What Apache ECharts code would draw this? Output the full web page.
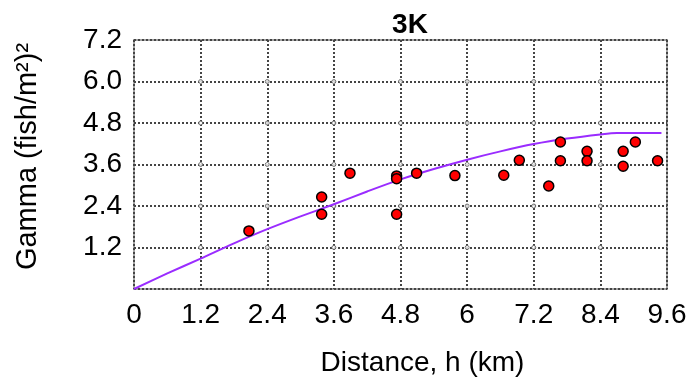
<!DOCTYPE html>
<html>
<head>
<meta charset="utf-8">
<style>
  html, body { margin: 0; padding: 0; background: #fff; }
  #chart { width: 695px; height: 387px; }
</style>
<script src="https://cdn.jsdelivr.net/npm/echarts@6/dist/echarts.min.js"></script>
</head>
<body>
<div id="chart"></div>
<script>
// Semivariogram for stratum 3K: empirical values and fitted model
var title = '3K';
var xName = 'Distance, h (km)';
var yName = 'Gamma (fish/m\u00B2)\u00B2';

// Axis ticks
var xTicks = [0, 1.2, 2.4, 3.6, 4.8, 6, 7.2, 8.4, 9.6];
var xTickLabels = ['0', '1.2', '2.4', '3.6', '4.8', '6', '7.2', '8.4', '9.6'];
var yTicks = [0, 1.2, 2.4, 3.6, 4.8, 6.0, 7.2];
var yTickLabels = ['', '1.2', '2.4', '3.6', '4.8', '6.0', '7.2'];

// Empirical semivariance (distance, gamma)
var empDistance = [2.07, 3.38, 3.38, 3.89, 4.73, 4.73, 4.73, 5.09, 5.78, 6.66, 6.94, 7.47, 7.68, 7.68, 8.16, 8.16, 8.81, 8.81, 9.03, 9.43];
var empGamma    = [1.68, 2.66, 2.16, 3.35, 3.27, 3.19, 2.16, 3.35, 3.28, 3.29, 3.72, 2.98, 4.25, 3.71, 3.98, 3.71, 3.98, 3.55, 4.25, 3.71];

// Fitted model curve
var modelDistance = [0, 0.6, 1.2, 1.8, 2.4, 3.0, 3.6, 4.2, 4.8, 5.4, 6.0, 6.6, 7.2, 7.8, 8.4, 8.7, 9.5];
var modelGamma    = [0, 0.45, 0.88, 1.32, 1.73, 2.10, 2.45, 2.82, 3.17, 3.47, 3.74, 3.98, 4.19, 4.35, 4.47, 4.51, 4.51];

var empData = empDistance.map(function (d, i) { return [d, empGamma[i]]; });
var modelData = modelDistance.map(function (d, i) { return [d, modelGamma[i]]; });

// small open circles where the inner grid lines cross
var crossData = [];
xTicks.slice(1, -1).forEach(function (x) {
  yTicks.slice(1, -1).forEach(function (y) { crossData.push([x, y]); });
});

var FONT = '"Liberation Sans", Arial, Helvetica, sans-serif';
var gridLine = { show: true, lineStyle: { color: '#444', width: 2, type: [2, 2] } };

var chart = echarts.init(document.getElementById('chart'), null, { renderer: 'canvas' });
chart.setOption({
  animation: false,
  backgroundColor: '#fff',
  title: {
    text: title,
    left: 405,
    top: 6,
    textAlign: 'center',
    textStyle: { fontFamily: FONT, fontSize: 28, fontWeight: 'bold', color: '#000' }
  },
  grid: {
    left: 134, right: 28, top: 40, bottom: 98,
    show: true, borderColor: '#a3a3a3', borderWidth: 2, backgroundColor: '#fff'
  },
  xAxis: {
    type: 'value',
    min: 0, max: 9.6, interval: 1.2,
    name: xName,
    nameLocation: 'middle',
    nameGap: 60,
    nameTextStyle: { fontFamily: FONT, fontSize: 28, color: '#000', padding: [0, 0, 0, 44] },
    axisLine: { show: false },
    axisTick: { show: false },
    splitLine: gridLine,
    axisLabel: {
      fontFamily: FONT, fontSize: 28, color: '#000', margin: 12,
      formatter: function (v) {
        var i = xTicks.findIndex(function (t) { return Math.abs(t - v) < 1e-6; });
        return i >= 0 ? xTickLabels[i] : '';
      }
    }
  },
  yAxis: {
    type: 'value',
    min: 0, max: 7.2, interval: 1.2,
    name: yName,
    nameLocation: 'middle',
    nameRotate: 90,
    nameGap: 92,
    nameTextStyle: { fontFamily: FONT, fontSize: 29, color: '#000', padding: [0, 0, 0, 16] },
    axisLine: { show: false },
    axisTick: { show: false },
    splitLine: gridLine,
    axisLabel: {
      fontFamily: FONT, fontSize: 28, color: '#000', margin: 12,
      formatter: function (v) {
        var i = yTicks.findIndex(function (t) { return Math.abs(t - v) < 1e-6; });
        return i >= 0 ? yTickLabels[i] : '';
      }
    }
  },
  series: [
    {
      type: 'scatter',
      data: crossData,
      symbol: 'circle',
      symbolSize: 4,
      silent: true,
      itemStyle: { color: '#fff', borderColor: '#5a5a5a', borderWidth: 1 },
      z: 1
    },
    {
      type: 'line',
      data: modelData,
      smooth: 0.3,
      showSymbol: false,
      lineStyle: { color: '#9a2cff', width: 2 },
      z: 3
    },
    {
      type: 'scatter',
      data: empData,
      symbol: 'circle',
      symbolSize: 10,
      itemStyle: { color: '#ff0000', borderColor: '#000', borderWidth: 1.5, opacity: 1 },
      z: 4
    }
  ]
});
</script>
</body>
</html>
